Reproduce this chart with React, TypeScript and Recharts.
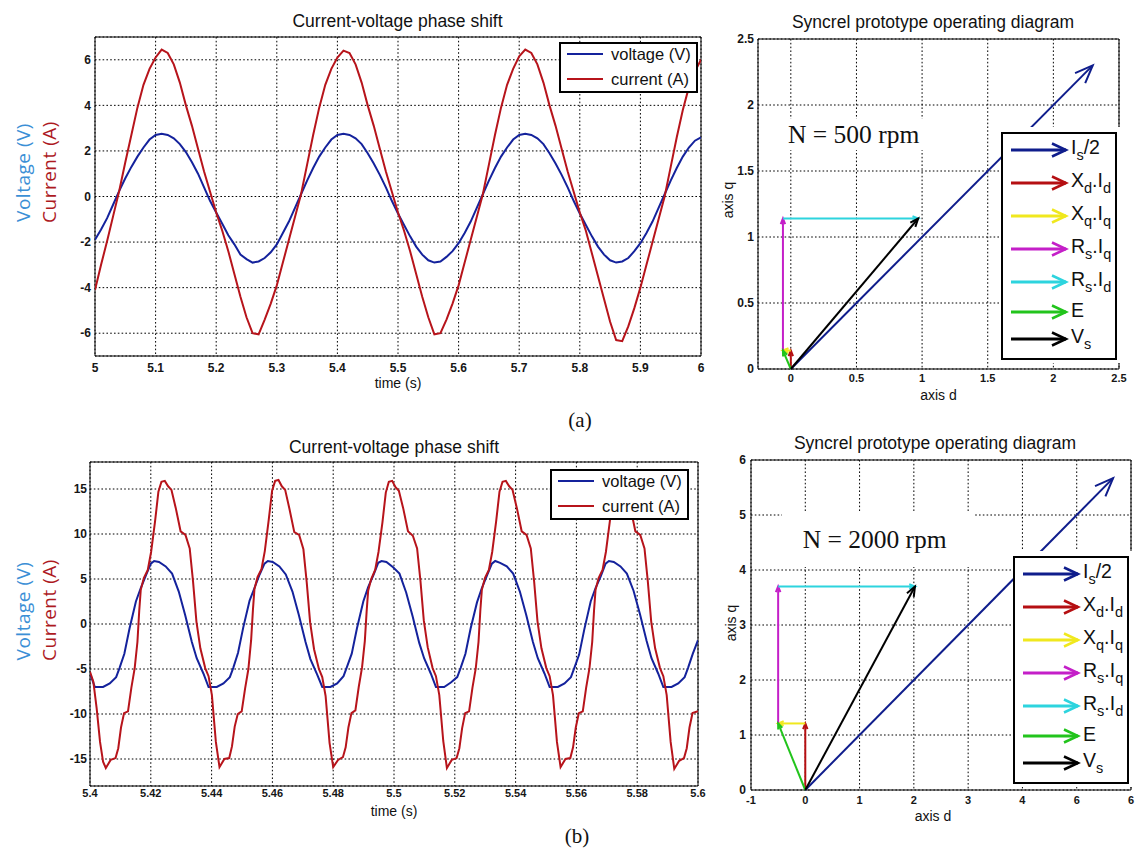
import {
  CartesianGrid,
  ComposedChart,
  Legend,
  Line,
  LineChart,
  ReferenceArea,
  ReferenceLine,
  XAxis,
  YAxis,
} from "recharts";

// (a) N = 500 rpm : voltage / current, one sample every 10 ms
const timeA = [
  5.0, 5.01, 5.02, 5.03, 5.04, 5.05, 5.06, 5.07, 5.08, 5.09,
  5.1, 5.11, 5.12, 5.13, 5.14, 5.15, 5.16, 5.17, 5.18, 5.19,
  5.2, 5.21, 5.22, 5.23, 5.24, 5.25, 5.26, 5.27, 5.28, 5.29,
  5.3, 5.31, 5.32, 5.33, 5.34, 5.35, 5.36, 5.37, 5.38, 5.39,
  5.4, 5.41, 5.42, 5.43, 5.44, 5.45, 5.46, 5.47, 5.48, 5.49,
  5.5, 5.51, 5.52, 5.53, 5.54, 5.55, 5.56, 5.57, 5.58, 5.59,
  5.6, 5.61, 5.62, 5.63, 5.64, 5.65, 5.66, 5.67, 5.68, 5.69,
  5.7, 5.71, 5.72, 5.73, 5.74, 5.75, 5.76, 5.77, 5.78, 5.79,
  5.8, 5.81, 5.82, 5.83, 5.84, 5.85, 5.86, 5.87, 5.88, 5.89,
  5.9, 5.91, 5.92, 5.93, 5.94, 5.95, 5.96, 5.97, 5.98, 5.99,
  6.0,
];
const voltageA = [
  -1.9, -1.45, -0.95, -0.35, 0.25, 0.8, 1.3, 1.75, 2.15, 2.5,
  2.7, 2.75, 2.7, 2.55, 2.3, 1.95, 1.5, 1.0, 0.4, -0.2,
  -0.7, -1.2, -1.7, -2.1, -2.55, -2.75, -2.9, -2.85, -2.7, -2.45,
  -2.1, -1.6, -1.1, -0.5, 0.1, 0.7, 1.25, 1.75, 2.15, 2.5,
  2.7, 2.75, 2.7, 2.55, 2.3, 1.9, 1.45, 0.95, 0.4, -0.2,
  -0.75, -1.25, -1.75, -2.2, -2.55, -2.8, -2.9, -2.85, -2.65, -2.4,
  -2.05, -1.6, -1.1, -0.5, 0.1, 0.7, 1.25, 1.75, 2.15, 2.5,
  2.7, 2.75, 2.7, 2.55, 2.3, 1.9, 1.45, 0.95, 0.4, -0.2,
  -0.75, -1.25, -1.75, -2.2, -2.55, -2.8, -2.9, -2.85, -2.7, -2.4,
  -2.05, -1.6, -1.1, -0.5, 0.1, 0.7, 1.25, 1.75, 2.15, 2.45,
  2.6,
];
const currentA = [
  -4.1, -3.0, -1.95, -0.85, 0.25, 1.5, 2.7, 3.9, 4.9, 5.6,
  6.1, 6.45, 6.3, 5.8, 5.0, 4.0, 3.1, 2.1, 1.1, 0.2,
  -0.7, -1.5, -2.4, -3.4, -4.4, -5.3, -6.0, -6.05, -5.4, -4.7,
  -3.9, -2.9, -1.9, -0.9, 0.1, 1.4, 2.7, 3.9, 4.9, 5.6,
  6.1, 6.4, 6.3, 5.8, 5.0, 4.0, 3.1, 2.1, 1.1, 0.2,
  -0.7, -1.5, -2.4, -3.4, -4.4, -5.3, -6.05, -6.0, -5.4, -4.7,
  -3.9, -2.9, -1.9, -0.9, 0.1, 1.4, 2.7, 3.9, 4.9, 5.6,
  6.15, 6.45, 6.3, 5.8, 5.0, 4.0, 3.1, 2.1, 1.1, 0.2,
  -0.7, -1.5, -2.5, -3.5, -4.5, -5.5, -6.3, -6.35, -5.7, -4.9,
  -4.0, -3.0, -2.0, -1.0, 0.0, 1.3, 2.6, 3.8, 4.8, 5.5,
  6.0,
];

// (b) N = 2000 rpm : voltage trace
const timeVB = [
  5.4,
  5.4016, 5.4043, 5.4065, 5.4086, 5.4097, 5.4113, 5.413, 5.4151, 5.4167, 5.4184,
  5.42, 5.4211, 5.4227, 5.4249, 5.427, 5.4292, 5.4313, 5.4335, 5.4351, 5.4373,
  5.439, 5.4417, 5.4439, 5.446, 5.4471, 5.4487, 5.4504, 5.4525, 5.4541, 5.4558,
  5.4574, 5.4585, 5.4601, 5.4623, 5.4644, 5.4666, 5.4687, 5.4709, 5.4725, 5.4747,
  5.4764, 5.4791, 5.4813, 5.4834, 5.4845, 5.4861, 5.4878, 5.4899, 5.4915, 5.4932,
  5.4948, 5.4959, 5.4975, 5.4997, 5.5018, 5.504, 5.5061, 5.5083, 5.5099, 5.5121,
  5.5138, 5.5165, 5.5187, 5.5208, 5.5219, 5.5235, 5.5252, 5.5273, 5.5289, 5.5306,
  5.5322, 5.5333, 5.5349, 5.5371, 5.5392, 5.5414, 5.5435, 5.5457, 5.5473, 5.5495,
  5.5512, 5.5539, 5.5561, 5.5582, 5.5593, 5.5609, 5.5626, 5.5647, 5.5663, 5.568,
  5.5696, 5.5707, 5.5723, 5.5745, 5.5766, 5.5788, 5.5809, 5.5831, 5.5847, 5.5869,
  5.5886, 5.5913, 5.5935, 5.5956, 5.5967, 5.5983, 5.6,
];
const voltageB = [
  -5.5,
  -7.0, -7.0, -6.6, -5.9, -4.9, -3.3, -0.5, 2.5, 4.0, 5.4,
  6.7, 7.0, 6.9, 6.4, 5.6, 3.6, 1.0, -2.0, -3.8, -5.5,
  -7.0, -7.0, -6.6, -5.9, -4.9, -3.2, -0.4, 2.6, 4.0, 5.5,
  6.7, 7.0, 6.9, 6.4, 5.5, 3.6, 1.0, -2.0, -3.9, -5.6,
  -7.0, -7.0, -6.6, -5.8, -4.8, -3.3, -0.5, 2.5, 4.1, 5.4,
  6.8, 7.0, 6.9, 6.3, 5.6, 3.5, 0.9, -2.1, -3.8, -5.5,
  -7.0, -7.0, -6.5, -5.9, -4.9, -3.3, -0.5, 2.4, 4.0, 5.4,
  6.7, 7.0, 6.8, 6.4, 5.6, 3.6, 1.0, -2.0, -3.8, -5.5,
  -7.0, -7.0, -6.6, -5.9, -4.9, -3.4, -0.6, 2.5, 4.0, 5.3,
  6.7, 7.0, 6.9, 6.4, 5.6, 3.7, 1.1, -1.9, -3.8, -5.5,
  -7.0, -7.0, -6.6, -5.9, -4.9, -3.3, -1.8,
];

// (b) N = 2000 rpm : current trace
const timeIB = [
  5.4, 5.4011, 5.4022, 5.4033, 5.4043,
  5.4052, 5.4068, 5.4084, 5.4093, 5.4102, 5.4112, 5.4125, 5.4136, 5.4147, 5.4156,
  5.4162, 5.4167, 5.4177, 5.419, 5.4201, 5.4214, 5.4225, 5.4235, 5.4246, 5.4257,
  5.4268, 5.4282, 5.4298, 5.4314, 5.4328, 5.4339, 5.435, 5.4363, 5.4379, 5.439,
  5.4401, 5.4414,
  5.4426, 5.4442, 5.4458, 5.4467, 5.4476, 5.4486, 5.4499, 5.451, 5.4521, 5.453,
  5.4536, 5.4541, 5.4551, 5.4564, 5.4575, 5.4588, 5.4599, 5.4609, 5.462, 5.4631,
  5.4642, 5.4656, 5.4672, 5.4688, 5.4702, 5.4713, 5.4724, 5.4737, 5.4753, 5.4764,
  5.4775, 5.4788,
  5.48, 5.4816, 5.4832, 5.4841, 5.485, 5.486, 5.4873, 5.4884, 5.4895, 5.4904,
  5.491, 5.4915, 5.4925, 5.4938, 5.4949, 5.4962, 5.4973, 5.4983, 5.4994, 5.5005,
  5.5016, 5.503, 5.5046, 5.5062, 5.5076, 5.5087, 5.5098, 5.5111, 5.5127, 5.5138,
  5.5149, 5.5162,
  5.5174, 5.519, 5.5206, 5.5215, 5.5224, 5.5234, 5.5247, 5.5258, 5.5269, 5.5278,
  5.5284, 5.5289, 5.5299, 5.5312, 5.5323, 5.5336, 5.5347, 5.5357, 5.5368, 5.5379,
  5.539, 5.5404, 5.542, 5.5436, 5.545, 5.5461, 5.5472, 5.5485, 5.5501, 5.5512,
  5.5523, 5.5536,
  5.5548, 5.5564, 5.558, 5.5589, 5.5598, 5.5608, 5.5621, 5.5632, 5.5643, 5.5652,
  5.5658, 5.5663, 5.5673, 5.5686, 5.5697, 5.571, 5.5721, 5.5731, 5.5742, 5.5753,
  5.5764, 5.5778, 5.5794, 5.581, 5.5824, 5.5835, 5.5846, 5.5859, 5.5875, 5.5886,
  5.5897, 5.591,
  5.5922, 5.5938, 5.5954, 5.5963, 5.5972, 5.5982, 5.6,
];
const currentB = [
  -5.3, -6.4, -9.4, -13.1, -15.3,
  -16.0, -15.1, -14.9, -13.8, -11.5, -9.9, -9.7, -7.1, -4.9, -2.0,
  1.5, 3.8, 5.1, 6.0, 8.0, 11.4, 14.7, 15.8, 15.9, 15.3,
  14.9, 12.9, 10.3, 9.9, 8.4, 4.7, 0.3, -2.7, -4.9, -5.8,
  -7.9, -13.1,
  -15.9, -15.0, -14.9, -13.6, -11.4, -10.0, -9.7, -7.2, -5.0, -1.8,
  1.6, 3.9, 5.2, 6.1, 8.1, 11.6, 14.8, 15.9, 16.0, 15.3,
  14.9, 12.8, 10.2, 9.9, 8.3, 4.6, 0.2, -2.8, -5.0, -5.9,
  -8.0, -13.2,
  -15.9, -15.1, -14.8, -13.7, -11.5, -9.9, -9.6, -7.0, -4.8, -1.9,
  1.4, 3.7, 5.0, 6.0, 8.0, 11.3, 14.6, 15.8, 15.9, 15.2,
  14.8, 12.9, 10.3, 9.8, 8.4, 4.8, 0.4, -2.6, -4.9, -5.8,
  -7.9, -13.0,
  -16.0, -15.1, -14.9, -13.8, -11.6, -9.9, -9.7, -7.1, -4.9, -2.0,
  1.5, 3.8, 5.1, 6.0, 8.0, 11.4, 14.7, 15.8, 15.9, 15.3,
  14.9, 12.9, 10.3, 9.9, 8.4, 4.7, 0.3, -2.7, -4.9, -5.8,
  -7.9, -13.1,
  -15.9, -15.0, -14.9, -13.7, -11.5, -9.9, -9.7, -7.1, -4.9, -2.0,
  1.5, 3.8, 5.1, 6.0, 8.0, 11.4, 14.7, 15.8, 15.9, 15.3,
  14.9, 12.9, 10.3, 9.9, 8.4, 4.7, 0.3, -2.7, -4.9, -5.8,
  -7.9, -13.1,
  -16.1, -15.2, -14.9, -13.8, -11.5, -9.9, -9.7,
];

const ticksXA = [5, 5.1, 5.2, 5.3, 5.4, 5.5, 5.6, 5.7, 5.8, 5.9, 6];
const ticksYA = [-6, -4, -2, 0, 2, 4, 6];
const ticksXB = [5.4, 5.42, 5.44, 5.46, 5.48, 5.5, 5.52, 5.54, 5.56, 5.58, 5.6];
const ticksYB = [-15, -10, -5, 0, 5, 10, 15];

// phasor diagrams: same seven vectors in both
const vecNames = ["Is/2", "Xd.Id", "Xq.Iq", "Rs.Iq", "Rs.Id", "E", "Vs"];
const vecLegend = [
  ["I", "s", "/2"],
  ["X", "d", ".I", "d"],
  ["X", "q", ".I", "q"],
  ["R", "s", ".I", "q"],
  ["R", "s", ".I", "d"],
  ["E"],
  ["V", "s"],
];
const vecColors = ["#0f1d8c", "#b50f12", "#f0e81e", "#c41fc8", "#2dd4de", "#22c41c", "#000000"];

// 500 rpm
const startDA = [0, 0, 0, -0.06, -0.06, 0, 0];
const startQA = [0, 0, 0.14, 0.14, 1.14, 0, 0];
const endDA = [2.3, 0, -0.06, -0.06, 0.97, -0.06, 0.97];
const endQA = [2.3, 0.14, 0.14, 1.14, 1.14, 0.14, 1.14];

// 2000 rpm
const startDB = [0, 0, 0, -0.5, -0.5, 0, 0];
const startQB = [0, 0, 1.21, 1.21, 3.7, 0, 0];
const endDB = [5.67, 0, -0.5, -0.5, 2.02, -0.5, 2.02];
const endQB = [5.67, 1.21, 1.21, 3.7, 3.7, 1.21, 3.7];

const ticksDA = [0, 0.5, 1, 1.5, 2, 2.5];
const ticksQA = [0, 0.5, 1, 1.5, 2, 2.5];
const ticksDB = [-1, 0, 1, 2, 3, 4, 5, 6];
const tickLabelsDB = ["-1", "0", "1", "2", "3", "4", "6", "6"];
const ticksQB = [0, 1, 2, 3, 4, 5, 6];

const SANS = "'Liberation Sans', Arial, sans-serif";
const SERIF = "'Liberation Serif', 'Times New Roman', serif";
const VOLT = "#14229c";
const AMP = "#b7141b";
const GRID = { stroke: "#000", strokeWidth: 1, strokeDasharray: "1.6 2.2" };

const tickFont = { fontSize: 12, fontWeight: 700, fill: "#161616", fontFamily: SANS };
const tickFontSmall = { ...tickFont, fontSize: 11 };
const axisLabel = { fontSize: 14, fill: "#111", fontFamily: SANS };

const dataA = timeA.map((t, k) => ({ t, v: voltageA[k], i: currentA[k] }));
const dataVB = timeVB.map((t, k) => ({ t, v: voltageB[k] }));
const dataIB = timeIB.map((t, k) => ({ t, i: currentB[k] }));

function WaveLegend() {
  const rows = [
    { label: "voltage (V)", color: VOLT, y: 10 },
    { label: "current (A)", color: AMP, y: 35 },
  ];
  return (
    <div
      style={{
        position: "relative",
        width: 139,
        height: 51,
        boxSizing: "border-box",
        border: "2px solid #000",
        background: "#fff",
        fontFamily: SANS,
        fontSize: 16.5,
        color: "#111",
      }}
    >
      {rows.map((r) => (
        <div key={r.label} style={{ position: "absolute", left: 6, top: r.y - 10, height: 20, display: "flex", alignItems: "center" }}>
          <svg width={44} height={20}>
            <line x1={0} y1={10} x2={36} y2={10} stroke={r.color} strokeWidth={2} />
          </svg>
          <span style={{ lineHeight: "20px", whiteSpace: "nowrap" }}>{r.label}</span>
        </div>
      ))}
    </div>
  );
}

function PhasorLegend() {
  const rowY = [16, 49, 82, 115, 148, 178, 205];
  return (
    <div style={{ position: "relative", width: 122, height: 236, background: "#fff" }}>
      <div
        style={{
          position: "absolute",
          left: 0,
          top: 4.5,
          width: 116,
          height: 228,
          boxSizing: "border-box",
          border: "2px solid #000",
          background: "#fff",
          fontFamily: SANS,
          color: "#111",
        }}
      >
        {vecNames.map((name, k) => (
          <div key={name} style={{ position: "absolute", left: 8, top: rowY[k] - 13, height: 26, display: "flex", alignItems: "center" }}>
            <svg width={60} height={26}>
              <line x1={0} y1={13} x2={55} y2={13} stroke={vecColors[k]} strokeWidth={3} />
              <polyline points="41,6.5 55,13 41,19.5" fill="none" stroke={vecColors[k]} strokeWidth={2.5} />
            </svg>
            <span style={{ fontSize: 19.5, lineHeight: "26px", whiteSpace: "nowrap", marginTop: -4 }}>
              {vecLegend[k].map((part, j) =>
                j % 2 === 1 ? (
                  <span key={j} style={{ fontSize: 14.5, position: "relative", top: 6 }}>
                    {part}
                  </span>
                ) : (
                  <span key={j}>{part}</span>
                )
              )}
            </span>
          </div>
        ))}
      </div>
    </div>
  );
}

function VectorShape(props: any) {
  const { x1, y1, x2, y2, stroke } = props;
  const dx = x2 - x1;
  const dy = y2 - y1;
  const len = Math.hypot(dx, dy);
  if (!len) return <g />;
  const head = Math.max(6, len * 0.045);
  const ang = Math.atan2(dy, dx);
  const spread = 0.38;
  const ax = x2 - head * Math.cos(ang - spread);
  const ay = y2 - head * Math.sin(ang - spread);
  const bx = x2 - head * Math.cos(ang + spread);
  const by = y2 - head * Math.sin(ang + spread);
  return (
    <g>
      <line x1={x1} y1={y1} x2={x2} y2={y2} stroke={stroke} strokeWidth={2} />
      <polyline points={`${ax},${ay} ${x2},${y2} ${bx},${by}`} fill="none" stroke={stroke} strokeWidth={2} />
    </g>
  );
}

function WaveChartA() {
  return (
    <LineChart width={720} height={400} data={dataA} margin={{ top: 37, right: 19, bottom: 12, left: 65 }}>
      <CartesianGrid {...GRID} />
      <XAxis
        dataKey="t"
        type="number"
        domain={[5, 6]}
        ticks={ticksXA}
        interval={0}
        allowDataOverflow
        axisLine={false}
        tickLine={false}
        tickSize={5}
        height={32}
        tick={tickFont}
        label={{ value: "time (s)", position: "insideBottom", offset: 0, ...axisLabel }}
      />
      <YAxis type="number" domain={[-7, 7]} ticks={ticksYA} interval={0} allowDataOverflow axisLine={false} tickLine={false} tickSize={2} width={30} tick={tickFont} />
      <ReferenceArea x1={5} x2={6} y1={-7} y2={7} fill="none" stroke="#000" strokeWidth={1} />
      <Line type="linear" dataKey="v" stroke={VOLT} strokeWidth={2} dot={false} isAnimationActive={false} />
      <Line type="linear" dataKey="i" stroke={AMP} strokeWidth={2} dot={false} isAnimationActive={false} />
      <Legend
        layout="vertical"
        align="center"
        verticalAlign="middle"
        content={() => <WaveLegend />}
        wrapperStyle={{ left: 559, top: 42, width: 139, height: 51 }}
      />
    </LineChart>
  );
}

function WaveChartB() {
  return (
    <LineChart width={720} height={400} margin={{ top: 37, right: 22, bottom: 9, left: 60 }}>
      <CartesianGrid {...GRID} />
      <XAxis
        dataKey="t"
        type="number"
        domain={[5.4, 5.6]}
        ticks={ticksXB}
        interval={0}
        allowDataOverflow
        axisLine={false}
        tickLine={false}
        tickSize={1}
        height={30}
        tick={tickFontSmall}
        label={{ value: "time (s)", position: "insideBottom", offset: 0, ...axisLabel }}
      />
      <YAxis type="number" domain={[-18, 18]} ticks={ticksYB} interval={0} allowDataOverflow axisLine={false} tickLine={false} tickSize={1} width={30} tick={tickFont} />
      <ReferenceArea x1={5.4} x2={5.6} y1={-18} y2={18} fill="none" stroke="#000" strokeWidth={1} />
      <Line data={dataVB} type="linear" dataKey="v" stroke={VOLT} strokeWidth={2} dot={false} isAnimationActive={false} />
      <Line data={dataIB} type="linear" dataKey="i" stroke={AMP} strokeWidth={2} dot={false} isAnimationActive={false} />
      <Legend
        layout="vertical"
        align="center"
        verticalAlign="middle"
        content={() => <WaveLegend />}
        wrapperStyle={{ left: 550, top: 44, width: 139, height: 51 }}
      />
    </LineChart>
  );
}

function PhasorChartA() {
  return (
    <ComposedChart width={415} height={405} margin={{ top: 39, right: 16, bottom: 5, left: 8 }}>
      <CartesianGrid {...GRID} />
      <XAxis
        dataKey="d"
        type="number"
        domain={[-0.25, 2.5]}
        ticks={ticksDA}
        interval={0}
        allowDataOverflow
        axisLine={false}
        tickLine={false}
        tickSize={3}
        height={31}
        tick={tickFontSmall}
        label={{ value: "axis d", position: "insideBottom", offset: 0, ...axisLabel }}
      />
      <YAxis dataKey="q" type="number" domain={[0, 2.5]} ticks={ticksQA} interval={0} allowDataOverflow axisLine={false} tickLine={false} tickSize={2} width={30} tick={tickFont} />
      <ReferenceArea x1={-0.25} x2={2.5} y1={0} y2={2.5} fill="none" stroke="#000" strokeWidth={1} />
      {vecNames.map((name, k) => (
        <ReferenceLine
          key={name}
          segment={[
            { x: startDA[k], y: startQA[k] },
            { x: endDA[k], y: endQA[k] },
          ]}
          stroke={vecColors[k]}
          strokeWidth={2}
          shape={VectorShape}
        />
      ))}
      <Legend
        layout="vertical"
        align="center"
        verticalAlign="middle"
        content={() => <PhasorLegend />}
        wrapperStyle={{ left: 281, top: 127, width: 122, height: 236 }}
      />
    </ComposedChart>
  );
}

function PhasorChartB() {
  return (
    <ComposedChart width={420} height={405} margin={{ top: 35, right: 4, bottom: 9, left: 6 }}>
      <CartesianGrid {...GRID} />
      <XAxis
        dataKey="d"
        type="number"
        domain={[-1, 6]}
        ticks={ticksDB}
        interval={0}
        allowDataOverflow
        axisLine={false}
        tickLine={false}
        tickSize={4}
        height={31}
        tick={tickFontSmall}
        tickFormatter={(_v: number, i: number) => tickLabelsDB[i]}
        label={{ value: "axis d", position: "insideBottom", offset: 0, dx: -8, ...axisLabel }}
      />
      <YAxis dataKey="q" type="number" domain={[0, 6]} ticks={ticksQB} interval={0} allowDataOverflow axisLine={false} tickLine={false} tickSize={3} width={30} tick={tickFont} />
      <ReferenceArea x1={-1} x2={6} y1={0} y2={6} fill="none" stroke="#000" strokeWidth={1} />
      {vecNames.map((name, k) => (
        <ReferenceLine
          key={name}
          segment={[
            { x: startDB[k], y: startQB[k] },
            { x: endDB[k], y: endQB[k] },
          ]}
          stroke={vecColors[k]}
          strokeWidth={2}
          shape={VectorShape}
        />
      ))}
      <Legend
        layout="vertical"
        align="center"
        verticalAlign="middle"
        content={() => <PhasorLegend />}
        wrapperStyle={{ left: 298, top: 126, width: 122, height: 236 }}
      />
    </ComposedChart>
  );
}

export default function App() {
  const title = { fontSize: 17.5, fill: "#111", fontFamily: SANS, textAnchor: "middle" as const };
  const sideLabel = { fontSize: 19, fontFamily: "'Open Sans', sans-serif", letterSpacing: 0.5, textAnchor: "middle" as const, dominantBaseline: "central" as const };
  return (
    <div style={{ position: "absolute", left: 0, top: 0, width: 1135, height: 849, background: "#fff", overflow: "hidden" }}>
      <div style={{ position: "absolute", left: 0, top: 0 }}>
        <WaveChartA />
      </div>
      <div style={{ position: "absolute", left: 720, top: 0 }}>
        <PhasorChartA />
      </div>
      <div style={{ position: "absolute", left: 0, top: 425 }}>
        <WaveChartB />
      </div>
      <div style={{ position: "absolute", left: 715, top: 425 }}>
        <PhasorChartB />
      </div>
      <svg width={1135} height={849} style={{ position: "absolute", left: 0, top: 0, pointerEvents: "none" }}>
        <text x={397.5} y={27} {...title}>Current-voltage phase shift</text>
        <text x={394} y={452.5} {...title}>Current-voltage phase shift</text>
        <text x={933} y={28} {...title}>Syncrel prototype operating diagram</text>
        <text x={935} y={449} {...title}>Syncrel prototype operating diagram</text>

        <text transform="translate(23 172.5) rotate(-90)" fill="#3b8fd6" {...sideLabel}>Voltage (V)</text>
        <text transform="translate(48.5 172) rotate(-90)" fill="#ad1a1f" {...sideLabel}>Current (A)</text>
        <text transform="translate(23 611) rotate(-90)" fill="#3b8fd6" {...sideLabel}>Voltage (V)</text>
        <text transform="translate(48.5 610) rotate(-90)" fill="#ad1a1f" {...sideLabel}>Current (A)</text>

        <text transform="translate(728 200) rotate(-90)" fontSize={14} fill="#111" fontFamily={SANS} textAnchor="middle" dominantBaseline="central">axis q</text>
        <text transform="translate(731 623) rotate(-90)" fontSize={14} fill="#111" fontFamily={SANS} textAnchor="middle" dominantBaseline="central">axis q</text>

        <rect x={784} y={119} width={146} height={31} fill="#fff" />
        <text x={788} y={142.7} fontSize={25.5} fontFamily={SERIF} fill="#111">N = 500 rpm</text>
        <rect x={782} y={513} width={193} height={54} fill="#fff" />
        <text x={802.7} y={548.3} fontSize={25.5} fontFamily={SERIF} fill="#111">N = 2000 rpm</text>

        <text x={580} y={426.5} fontSize={21} fontFamily={SERIF} fill="#111" textAnchor="middle">(a)</text>
        <text x={577} y={843.3} fontSize={21} fontFamily={SERIF} fill="#111" textAnchor="middle">(b)</text>
      </svg>
    </div>
  );
}
